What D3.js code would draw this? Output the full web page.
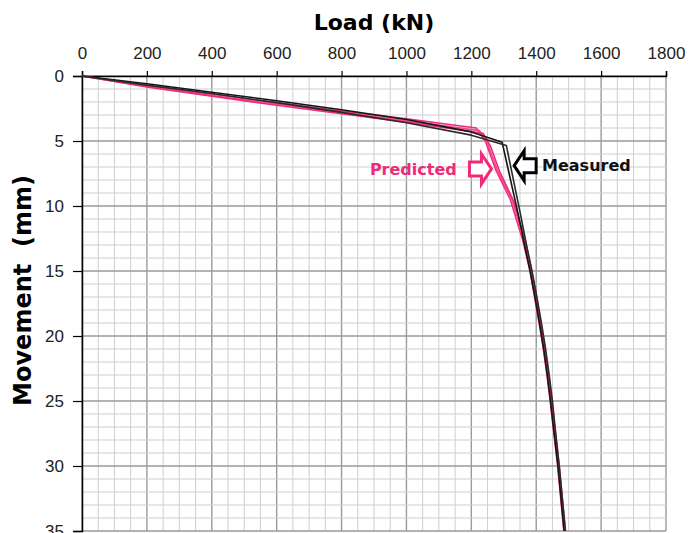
<!DOCTYPE html>
<html>
<head>
<meta charset="utf-8">
<script src="https://cdn.jsdelivr.net/npm/d3@7"></script>
<style>
  body { margin: 0; background: #fff; }
  .tick text { font-family: "Liberation Sans", sans-serif; font-size: 17px; fill: #222; }
  .title { font-family: "DejaVu Sans", sans-serif; font-weight: bold; fill: #000; }
</style>
</head>
<body>
<script>
const loadTicks = [0, 200, 400, 600, 800, 1000, 1200, 1400, 1600, 1800]
const movementTicks = [0, 5, 10, 15, 20, 25, 30, 35]

// measured (black) curves
const measuredLoadA = [0, 200, 400, 600, 800, 1000, 1200, 1295, 1345, 1364, 1381, 1396, 1410, 1423, 1434, 1444, 1453, 1467, 1486]
const measuredMmA   = [0, 0.6, 1.25, 1.9, 2.6, 3.35, 4.3, 5.1, 10.7, 13, 15, 17, 19, 21, 23, 25, 27, 30, 35]
const measuredLoadB = [0, 200, 400, 600, 800, 1000, 1200, 1308, 1352, 1370, 1387, 1402, 1416, 1429, 1440, 1450, 1458, 1471, 1490]
const measuredMmB   = [0, 0.7, 1.35, 2.05, 2.8, 3.6, 4.55, 5.35, 10.7, 13, 15, 17, 19, 21, 23, 25, 27, 30, 35]

// predicted (pink) curves
const predictedLoadA = [0, 200, 400, 600, 800, 1000, 1215, 1243, 1275, 1320, 1358, 1381, 1395, 1409, 1422, 1433, 1443, 1452, 1466, 1485]
const predictedMmA   = [0, 0.75, 1.4, 2.05, 2.7, 3.3, 4.0, 5.0, 7.2, 9.5, 12.6, 15, 17, 19, 21, 23, 25, 27, 30, 35]
const predictedLoadB = [0, 200, 400, 600, 800, 1000, 1225, 1250, 1281, 1325, 1362, 1384, 1398, 1412, 1425, 1436, 1446, 1455, 1469, 1488]
const predictedMmB   = [0, 0.8, 1.5, 2.15, 2.8, 3.45, 4.2, 5.2, 7.3, 9.5, 12.5, 15, 17, 19, 21, 23, 25, 27, 30, 35]
const predictedLoadC = [0, 200, 400, 600, 800, 1000, 1236, 1259, 1288, 1330, 1365, 1386, 1400, 1414, 1427, 1438, 1448, 1457, 1471, 1490]
const predictedMmC   = [0, 0.85, 1.55, 2.25, 2.9, 3.55, 4.4, 5.4, 7.4, 9.6, 12.5, 15, 17, 19, 21, 23, 25, 27, 30, 35]

const svgWidth = 688
const svgHeight = 533

const margin = { top: 76, left: 82 }
const chartWidth = 584
const chartHeight = 455

const svg = d3.select("body").append("svg")
    .attr("width", svgWidth)
    .attr("height", svgHeight)

const chartG = svg.append("g")
    .attr("transform", `translate(${margin.left}, ${margin.top})`)

const x = d3.scaleLinear()
    .domain([0, 1800])
    .range([0, chartWidth])

const y = d3.scaleLinear()
    .domain([0, 35])
    .range([0, chartHeight])

// grid
const minorX = d3.range(0, 1801, 50)
const minorY = d3.range(0, 36, 1)

chartG.append("g").selectAll("line")
    .data(minorX)
    .enter()
    .append("line")
    .attr("x1", d => x(d)).attr("x2", d => x(d))
    .attr("y1", 0).attr("y2", chartHeight)
    .attr("stroke", d => d % 200 === 0 ? "#9a9a9a" : "#cfcfcf")
    .attr("stroke-width", d => d % 200 === 0 ? 1.4 : 1)

chartG.append("g").selectAll("line")
    .data(minorY)
    .enter()
    .append("line")
    .attr("x1", 0).attr("x2", chartWidth)
    .attr("y1", d => y(d)).attr("y2", d => y(d))
    .attr("stroke", d => d % 5 === 0 ? "#9a9a9a" : "#cfcfcf")
    .attr("stroke-width", d => d % 5 === 0 ? 1.4 : 1)

// axes
const xAxis = d3.axisTop(x).tickValues(loadTicks).tickFormat(d3.format("d")).tickSize(5).tickPadding(12)
const yAxis = d3.axisLeft(y).tickValues(movementTicks).tickFormat(d3.format("d")).tickSize(9).tickPadding(9)

chartG.append("g")
    .call(xAxis)
    .call(g => g.select(".domain").attr("stroke", "#000").attr("stroke-width", 1.5))
    .call(g => g.selectAll(".tick line").attr("stroke", "#000").attr("stroke-width", 1.2))

chartG.append("g")
    .call(yAxis)
    .call(g => g.select(".domain").attr("stroke", "#000").attr("stroke-width", 1.5))
    .call(g => g.selectAll(".tick line").attr("stroke", "#000").attr("stroke-width", 1.2))

// curves
const line = d3.line()
    .x(d => x(d[0]))
    .y(d => y(d[1]))

const series = [
  { load: predictedLoadA, mm: predictedMmA, color: "#ef2d7d" },
  { load: predictedLoadB, mm: predictedMmB, color: "#f04a8e" },
  { load: predictedLoadC, mm: predictedMmC, color: "#ee2a79" },
  { load: measuredLoadA, mm: measuredMmA, color: "#151515" },
  { load: measuredLoadB, mm: measuredMmB, color: "#2a2a2a" }
]

chartG.selectAll(".curve")
    .data(series)
    .enter()
    .append("path")
    .attr("class", "curve")
    .attr("d", s => line(s.load.map((l, i) => [l, s.mm[i]])))
    .attr("fill", "none")
    .attr("stroke", d => d.color)
    .attr("stroke-width", 1.6)
    .attr("stroke-linejoin", "round")

// annotations
const arrowPath = (tipX, tipY, dir) => {
  const len = 22, headLen = 10, headH = 15, shaftH = 7
  const p = [
    [0, 0], [-headLen, -headH], [-headLen, -shaftH], [-len, -shaftH],
    [-len, shaftH], [-headLen, shaftH], [-headLen, headH]
  ]
  return "M" + p.map(([a, b]) => `${tipX + dir * a},${tipY + b}`).join("L") + "Z"
}

chartG.append("path")
    .attr("d", arrowPath(x(1262), y(7.15), 1))
    .attr("fill", "#fff")
    .attr("stroke", "#ee2a79")
    .attr("stroke-width", 3)

chartG.append("path")
    .attr("d", arrowPath(x(1332), y(6.9), -1))
    .attr("fill", "#fff")
    .attr("stroke", "#000")
    .attr("stroke-width", 3)

chartG.append("text")
    .attr("class", "title")
    .attr("x", x(1155))
    .attr("y", y(7.15))
    .attr("dy", "0.35em")
    .attr("text-anchor", "end")
    .attr("font-size", 16)
    .style("fill", "#ee2a79")
    .text("Predicted")

chartG.append("text")
    .attr("class", "title")
    .attr("x", x(1418))
    .attr("y", y(6.9))
    .attr("dy", "0.35em")
    .attr("font-size", 16)
    .style("fill", "#111")
    .text("Measured")

// axis titles
svg.append("text")
    .attr("class", "title")
    .attr("x", margin.left + x(900))
    .attr("y", 30)
    .attr("text-anchor", "middle")
    .attr("font-size", 22)
    .text("Load (kN)")

svg.append("text")
    .attr("class", "title")
    .attr("transform", `translate(31, ${margin.top + y(16.5)}) rotate(-90)`)
    .attr("text-anchor", "middle")
    .attr("font-size", 24)
    .style("white-space", "pre")
    .text("Movement  (mm)")
</script>
</body>
</html>
